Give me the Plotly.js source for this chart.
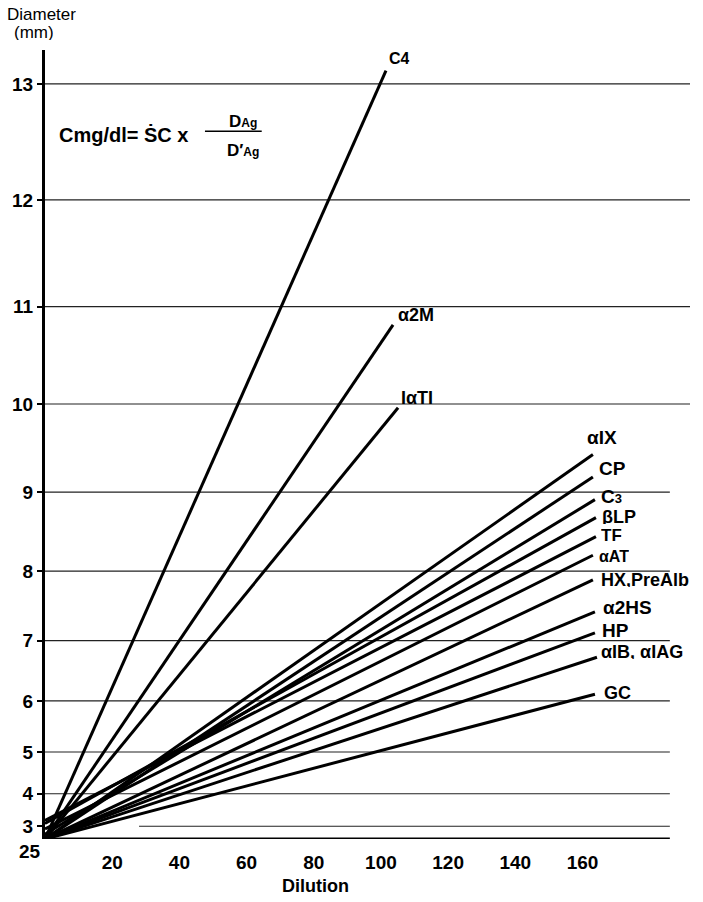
<!DOCTYPE html>
<html>
<head>
<meta charset="utf-8">
<script src="https://cdn.plot.ly/plotly-3.0.1.min.js"></script>
<style>html,body{margin:0;padding:0;background:#fff;}#chart{width:703px;height:902px;}</style>
</head>
<body>
<div id="chart"></div>
<script>
// ---- data ----
const lineNames = ['C4','α2M','IαTI','αIX','CP','C<span style="font-size:13px">3</span>','βLP','TF','αAT','HX,PreAlb','α2HS','HP','αIB, αIAG','GC'];
const startDilution = [0,0,0,0,0,0,0,0,0,0,0,0,0,0];
const startDiameter = [2.5,2.5,2.5,2.5,2.5,2.7,3.1,3.2,2.9,2.5,2.5,2.5,2.5,2.5];
const endDilution = [101.5,103.6,105.1,163.1,163.1,163.7,164.0,164.0,163.1,163.1,163.7,163.7,164.3,163.7];
const endDiameter = [13.11,10.82,9.96,9.44,9.18,8.91,8.69,8.45,8.21,7.88,7.43,7.12,6.74,6.12];
const yTickDiameters = [2.5,3,4,5,6,7,8,9,10,11,12,13];
const yTickLabels = ['25','3','4','5','6','7','8','9','10','11','12','13'];
const xTickValues = [20,40,60,80,100,120,140,160];
const xTickLabels = ['20','40','60','80','100','120','140','160'];

// ---- styling / positions ----
const labelShift = [[2,13],[4,10],[2,10],[-7,18],[5,9],[5,4],[5,1],[4,2],[5,-1],[7,0],[7,5],[6,3],[3,5],[8,1]];
const labelSize = [16,18,18,19,19,19,18,17,16,18,19,19,18,18];
const sq = d => d*d;
const font = 'Liberation Sans, Arial, sans-serif';

const traces = lineNames.map((n,i)=>({
  type:'scatter', mode:'lines',
  x:[startDilution[i], endDilution[i]],
  y:[sq(startDiameter[i]), sq(endDiameter[i])],
  line:{color:'#000', width:3}, hoverinfo:'skip', showlegend:false
}));

const shapes = [];
yTickDiameters.forEach((d,i)=>{
  if (d === 2.5) return;
  const x0 = d === 3 ? 28 : 0;
  const x1 = d >= 10 ? 192 : 186;
  shapes.push({type:'line', xref:'x', yref:'y', x0:x0, x1:x1, y0:sq(d), y1:sq(d),
    line:{color:'#222', width:1.2}, layer:'below'});
});
// x axis line
shapes.push({type:'line', xref:'x', yref:'y', x0:0, x1:186, y0:sq(2.5), y1:sq(2.5), line:{color:'#000', width:3}});
// fraction bar
shapes.push({type:'line', xref:'paper', yref:'paper', x0:0.248, x1:0.336, y0:0.897, y1:0.897, line:{color:'#000', width:1.5}});

const annotations = lineNames.map((n,i)=>({
  x:endDilution[i], y:sq(endDiameter[i]), xref:'x', yref:'y',
  text:n, showarrow:false, xanchor:'left', yanchor:'middle',
  xshift:labelShift[i][0], yshift:labelShift[i][1], height:14, borderpad:0,
  font:{family:font, size:labelSize[i], color:'#000', weight:'bold'}
}));
annotations.push(
  {x:0.0186, y:0.892, xref:'paper', yref:'paper', xanchor:'left', yanchor:'middle', showarrow:false,
   text:'Cmg/dl= ṠC x', font:{family:font, size:20, color:'#000', weight:'bold'}},
  {x:0.307, y:0.91, xref:'paper', yref:'paper', xanchor:'center', yanchor:'middle', showarrow:false,
   text:'D<span style="font-size:12px">Ag</span>', font:{family:font, size:17, color:'#000', weight:'bold'}},
  {x:0.307, y:0.873, xref:'paper', yref:'paper', xanchor:'center', yanchor:'middle', showarrow:false,
   text:'D′<span style="font-size:12px">Ag</span>', font:{family:font, size:17, color:'#000', weight:'bold'}},
  {x:-0.06, y:1.0444, xref:'paper', yref:'paper', xanchor:'left', yanchor:'middle', showarrow:false,
   height:15, borderpad:0, text:'Diameter', font:{family:font, size:17, color:'#000'}},
  {x:-0.049, y:1.0222, xref:'paper', yref:'paper', xanchor:'left', yanchor:'middle', showarrow:false,
   height:15, borderpad:0, text:'(mm)', font:{family:font, size:17, color:'#000'}},
  {x:0.419, y:-0.06, xref:'paper', yref:'paper', xanchor:'center', yanchor:'middle', showarrow:false,
   text:'Dilution', font:{family:font, size:18, color:'#000', weight:'bold'}},
  {x:0, y:sq(yTickDiameters[0]), xref:'x', yref:'y', xanchor:'right', yanchor:'middle', showarrow:false,
   xshift:-2, yshift:-12, text:yTickLabels[0], font:{family:font, size:19, color:'#000', weight:'bold'}}
);

const layout = {
  width:703, height:902,
  margin:{l:45, r:13, t:50, b:63},
  paper_bgcolor:'#fff', plot_bgcolor:'#fff',
  showlegend:false,
  xaxis:{range:[0,192], showgrid:false, zeroline:false, showline:false,
    tickvals:xTickValues, ticktext:xTickLabels, ticks:'', ticklabelstandoff:10,
    tickfont:{family:font, size:19, color:'#000', weight:'bold'}},
  yaxis:{range:[6.25,176.3], showgrid:false, zeroline:false, showline:true, linecolor:'#000', linewidth:3,
    tickvals:yTickDiameters.slice(1).map(sq), ticktext:yTickLabels.slice(1),
    ticks:'outside', ticklen:5, tickwidth:2, tickcolor:'#000',
    tickfont:{family:font, size:19, color:'#000', weight:'bold'}},
  shapes:shapes, annotations:annotations
};

Plotly.newPlot('chart', traces, layout, {staticPlot:true, displayModeBar:false});
</script>
</body>
</html>
